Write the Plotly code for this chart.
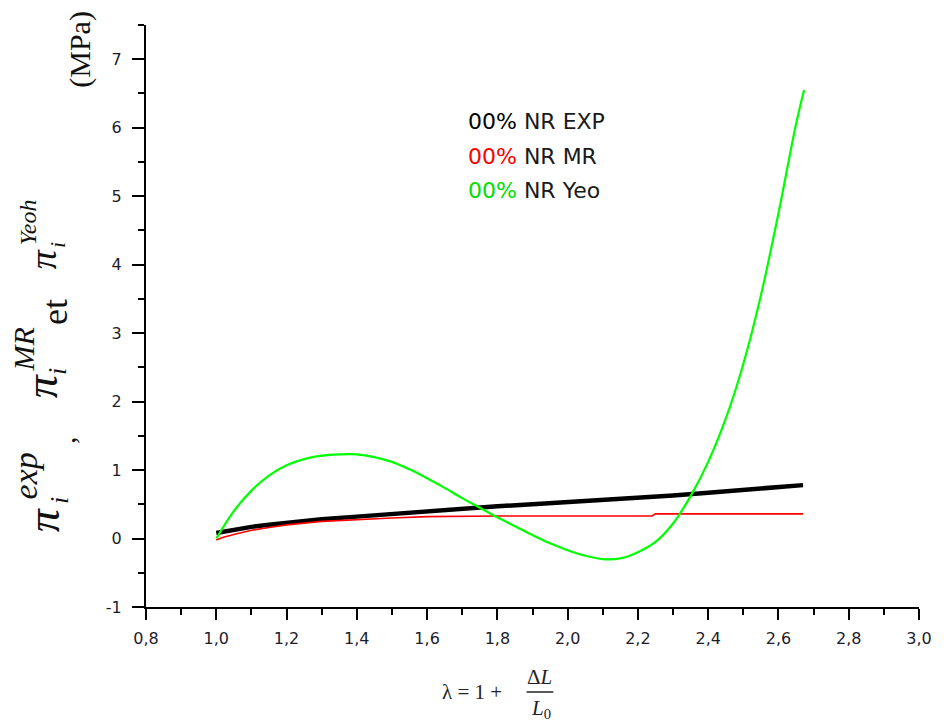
import plotly.graph_objects as go

# Stretch ratio λ and nominal stress (MPa) for the 00% NR specimen
lam_exp = [1.00, 1.02, 1.05, 1.10, 1.15, 1.20, 1.30, 1.40, 1.50, 1.60, 1.70, 1.80,
           1.90, 2.00, 2.10, 2.20, 2.30, 2.40, 2.50, 2.60, 2.67]
pi_exp = [0.08, 0.10, 0.13, 0.17, 0.20, 0.23, 0.28, 0.32, 0.36, 0.40, 0.43, 0.47,
          0.50, 0.53, 0.56, 0.60, 0.63, 0.67, 0.71, 0.75, 0.78]

lam_mr = [1.00, 1.02, 1.05, 1.10, 1.15, 1.20, 1.30, 1.40, 1.50, 1.60, 1.70, 1.80,
          2.00, 2.24, 2.25, 2.40, 2.67]
pi_mr = [-0.02, 0.02, 0.06, 0.12, 0.16, 0.20, 0.25, 0.28, 0.30, 0.32, 0.33, 0.33,
         0.33, 0.33, 0.36, 0.36, 0.36]

lam_yeoh = [1.00, 1.05, 1.10, 1.15, 1.20, 1.25, 1.30, 1.35, 1.40, 1.45, 1.50, 1.55,
            1.60, 1.65, 1.70, 1.75, 1.80, 1.85, 1.90, 1.95, 2.00, 2.05, 2.10, 2.15,
            2.20, 2.25, 2.30, 2.35, 2.40, 2.45, 2.50, 2.55, 2.60, 2.65, 2.673]
pi_yeoh = [0.00, 0.40, 0.70, 0.92, 1.07, 1.16, 1.21, 1.23, 1.23, 1.19, 1.12, 1.01,
           0.88, 0.74, 0.59, 0.45, 0.31, 0.18, 0.05, -0.07, -0.17, -0.25, -0.30, -0.29,
           -0.20, -0.05, 0.22, 0.62, 1.12, 1.75, 2.55, 3.55, 4.75, 6.05, 6.55]

x_ticks = [0.8, 1.0, 1.2, 1.4, 1.6, 1.8, 2.0, 2.2, 2.4, 2.6, 2.8, 3.0]
x_tick_text = ["0,8", "1,0", "1,2", "1,4", "1,6", "1,8", "2,0", "2,2", "2,4", "2,6", "2,8", "3,0"]
y_ticks = [-1, 0, 1, 2, 3, 4, 5, 6, 7]
y_tick_text = ["-1", "0", "1", "2", "3", "4", "5", "6", "7"]

legend_lines = [("00%", "#000000", "EXP"),
                ("00%", "#ff0000", "MR"),
                ("00%", "#00e000", "Yeo")]

W, H = 944, 722
L, R, T, B = 146, 16, 25, 115
PW, PH = W - L - R, H - T - B


def px(x, y):
    """Pixel position on the page -> paper coordinates."""
    return (x - L) / PW, (H - B - y) / PH


fig = go.Figure()
fig.add_trace(go.Scatter(x=lam_exp, y=pi_exp, mode="lines",
                         line=dict(color="#000000", width=4.5), showlegend=False))
fig.add_trace(go.Scatter(x=lam_mr, y=pi_mr, mode="lines",
                         line=dict(color="#ff0000", width=1.6, shape="linear"), showlegend=False))
fig.add_trace(go.Scatter(x=lam_yeoh, y=pi_yeoh, mode="lines",
                         line=dict(color="#00ff00", width=2.2, shape="spline", smoothing=1.0),
                         showlegend=False))

axis_common = dict(showline=True, linecolor="#000000", linewidth=2, showgrid=False,
                   zeroline=False, ticks="outside", tickcolor="#000000", tickwidth=2,
                   tickfont=dict(family="DejaVu Sans", size=16, color="#1c1c2c"))

fig.update_xaxes(range=[0.8, 3.0], tickvals=x_ticks, ticktext=x_tick_text, ticklen=11,
                 ticklabelstandoff=5,
                 minor=dict(dtick=0.1, ticklen=6, tickwidth=2, tickcolor="#000000", ticks="outside"),
                 **axis_common)
fig.update_yaxes(range=[-1, 7.5], tickvals=y_ticks, ticktext=y_tick_text, ticklen=12,
                 ticklabelstandoff=7,
                 minor=dict(dtick=0.5, ticklen=6, tickwidth=2, tickcolor="#000000", ticks="outside"),
                 **axis_common)

ann = []

# Legend text block
for i, (pct, col, name) in enumerate(legend_lines):
    x, y = px(470, 122 + i * 34)
    ann.append(dict(x=x, y=y, xref="paper", yref="paper", xanchor="left", yanchor="middle",
                    showarrow=False,
                    text=f"<span style='color:{col}'>{pct}</span> NR {name}",
                    font=dict(family="DejaVu Sans", size=22, color="#1a1a1a")))

# Y-axis title, built piece by piece (rotated)
serif = "Liberation Serif"
ytitle = [
    ("(MPa)", 79, 49, 30),
    ("<i>π</i>", 42, 259, 38),
    ("<i>Yeoh</i>", 27, 222, 24),
    ("<i>i</i>", 56, 245, 22),
    ("et", 54, 312, 36),
    ("<i>π</i>", 40, 386, 46),
    ("<i>MR</i>", 22, 349, 30),
    ("<i>i</i>", 56, 372, 26),
    (",", 63, 440, 30),
    ("<i>π</i>", 42, 520, 46),
    ("<i>exp</i>", 24, 476, 34),
    ("<i>i</i>", 58, 501, 26),
]
for txt, xx, yy, sz in ytitle:
    x, y = px(xx, yy)
    ann.append(dict(x=x, y=y, xref="paper", yref="paper", xanchor="center", yanchor="middle",
                    showarrow=False, textangle=-90, text=txt,
                    font=dict(family=serif, size=sz, color="#111111")))

# X-axis title: λ = 1 + ΔL / L0
xtitle = [
    ("λ = 1 +", 476, 692, 21),
    ("Δ<i>L</i>", 544, 677, 21),
    ("<i>L</i><sub>0</sub>", 546, 709, 21),
]
for txt, xx, yy, sz in xtitle:
    x, y = px(xx, yy)
    ann.append(dict(x=x, y=y, xref="paper", yref="paper", xanchor="center", yanchor="middle",
                    showarrow=False, text=txt,
                    font=dict(family=serif, size=sz, color="#222222")))

x0, y0 = px(531, 692)
x1, _ = px(558, 692)
fig.add_shape(type="line", xref="paper", yref="paper", x0=x0, x1=x1, y0=y0, y1=y0,
              line=dict(color="#222222", width=1.5))

fig.update_layout(width=W, height=H, margin=dict(l=L, r=R, t=T, b=B),
                  paper_bgcolor="white", plot_bgcolor="white", annotations=ann)

fig.write_html("out.html")
